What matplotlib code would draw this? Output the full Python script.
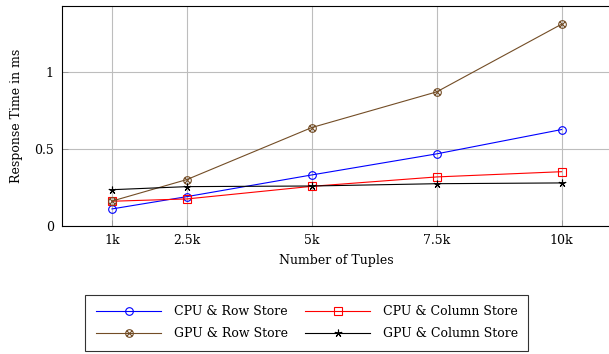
import numpy as np
import matplotlib
matplotlib.use('Agg')
import matplotlib.pyplot as plt
from matplotlib.path import Path

plt.rcParams['font.family'] = ['DejaVu Serif']
plt.rcParams['font.size'] = 9

tuples = [1000, 2500, 5000, 7500, 10000]
tick_labels = ['1k', '2.5k', '5k', '7.5k', '10k']
cpu_row = [0.109, 0.189, 0.330, 0.467, 0.625]
cpu_col = [0.159, 0.174, 0.256, 0.317, 0.351]
gpu_row = [0.160, 0.300, 0.638, 0.870, 1.310]
gpu_col = [0.234, 0.254, 0.258, 0.273, 0.278]

# circle with a cross inside (pgfplots "otimes")
d = np.sqrt(0.5)
otimes = Path.make_compound_path(
    Path.unit_circle(),
    Path([(-d, -d), (d, d)], [Path.MOVETO, Path.LINETO]),
    Path([(-d, d), (d, -d)], [Path.MOVETO, Path.LINETO]))

brown = '#734d26'

fig = plt.figure(figsize=(6.09, 3.54), dpi=100)
ax = fig.add_axes([62/609, 1 - 225.7/354, 549.6/609, 220/354])

ms = 5.5
l1, = ax.plot(tuples, cpu_row, '-', color='blue', lw=0.8, marker='o', ms=ms,
              mfc='none', mew=0.8, label='CPU & Row Store')
l2, = ax.plot(tuples, cpu_col, '-', color='red', lw=0.8, marker='s', ms=ms,
              mfc='none', mew=0.8, label='CPU & Column Store')
l3, = ax.plot(tuples, gpu_row, '-', color=brown, lw=0.8, marker=otimes, ms=ms,
              mfc='none', mew=0.8, label='GPU & Row Store')
l4, = ax.plot(tuples, gpu_col, '-', color='black', lw=0.8, marker=(5, 2), ms=ms,
              mew=0.8, label='GPU & Column Store')

ax.set_xlim(0, 11000)
ax.set_ylim(0, 1.43)
ax.set_xticks(tuples)
ax.set_xticklabels(tick_labels)
ax.set_yticks([0, 0.5, 1])
ax.set_yticklabels(['0', '0.5', '1'])
ax.grid(True, color='#bdbdbd', lw=0.8)
ax.set_axisbelow(True)
ax.tick_params(direction='in', length=4, width=0.5, color='#888888', pad=6)
for s in ax.spines.values():
    s.set_linewidth(0.8)

ax.set_xlabel('Number of Tuples', labelpad=5)
ax.set_ylabel('Response Time in ms', labelpad=8)

# row-wise legend order like pgfplots
handles = [l1, l3, l2, l4]
leg = fig.legend(handles, [h.get_label() for h in handles],
                 loc='center', bbox_to_anchor=(0.504, 0.088), ncol=2,
                 frameon=True, fancybox=False, edgecolor='black',
                 handlelength=5.2, handletextpad=1.0, columnspacing=1.4,
                 labelspacing=0.7, borderpad=0.85)
leg.get_frame().set_linewidth(0.8)

fig.savefig('out.png', dpi=100)
